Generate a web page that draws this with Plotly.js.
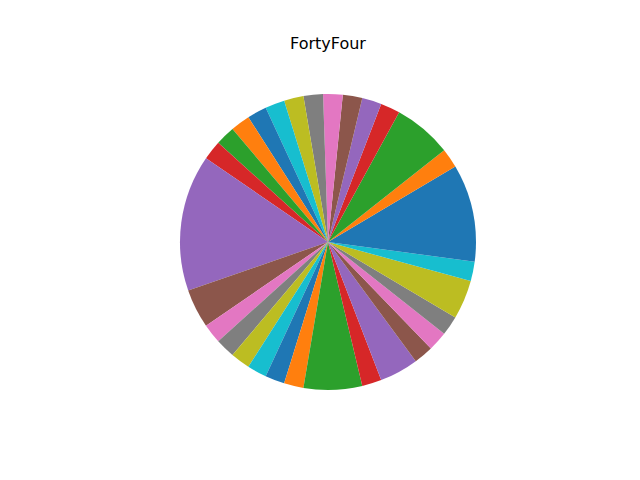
<!DOCTYPE html>
<html>
<head>
<meta charset="utf-8">
<script src="https://cdn.plot.ly/plotly-3.0.1.min.js"></script>
<style>html,body{margin:0;padding:0;background:#fff;}#chart{width:640px;height:480px;}</style>
</head>
<body>
<div id="chart"></div>
<script>
const labels = ["s1","s2","s3","s4","s5","s6","s7","s8","s9","s10","s11","s12","s13","s14","s15","s16","s17","s18","s19","s20","s21","s22","s23","s24","s25","s26","s27","s28","s29","s30","s31"];
const values = [4,1,3,1,1,1,1,1,1,1,1,1,1,1,7,2,1,1,1,1,1,1,3,1,2,1,1,1,2,1,1];
const palette = ["#1f77b4","#ff7f0e","#2ca02c","#d62728","#9467bd","#8c564b","#e377c2","#7f7f7f","#bcbd22","#17becf"];
const colors = values.map((v,i)=>palette[i%palette.length]);
const total = values.reduce((a,b)=>a+b,0);
// matplotlib starts the first wedge at 3 o'clock going counterclockwise;
// Plotly ends the first wedge at the rotation angle for counterclockwise order.
const rotation = 90 - values[0]/total*360;

const trace = {
  type: "pie",
  labels: labels,
  values: values,
  sort: false,
  direction: "counterclockwise",
  rotation: rotation,
  textinfo: "none",
  hoverinfo: "label+value",
  showlegend: false,
  marker: {colors: colors, line: {width: 0}},
  domain: {x: [180/640, 476/640], y: [90/480, 386/480]}
};
const layout = {
  width: 640, height: 480,
  margin: {l:0, r:0, t:0, b:0},
  paper_bgcolor: "#ffffff",
  showlegend: false,
  title: {text: "FortyFour", x: 328/640, xref: "paper", xanchor: "center", y: 1-43/480, yref: "container", yanchor: "middle", font: {family: "DejaVu Sans", size: 16, color: "#000000"}}
};
Plotly.newPlot("chart", [trace], layout, {displayModeBar: false, staticPlot: true});
</script>
</body>
</html>
